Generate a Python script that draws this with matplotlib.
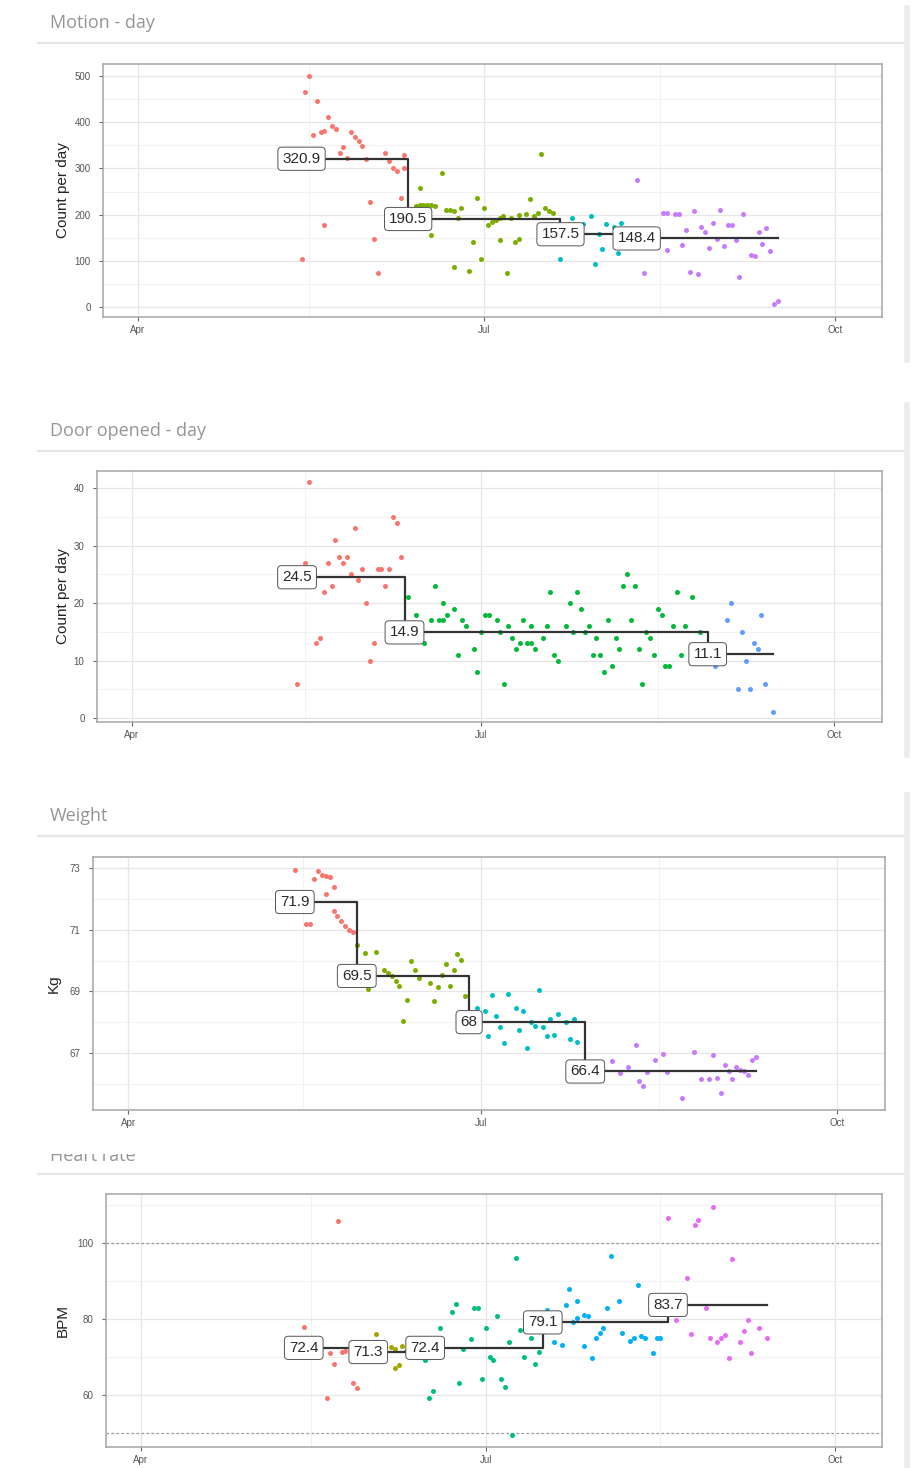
import matplotlib
matplotlib.use("Agg")
import matplotlib.pyplot as plt
import matplotlib.dates as mdates
from matplotlib.lines import Line2D
from matplotlib.ticker import FixedLocator
from matplotlib.transforms import Bbox, TransformedBbox
import numpy as np
import pandas as pd

plt.rcParams["font.family"] = ["Liberation Sans", "DejaVu Sans"]

YEAR = "2019-"

# Motion - day
motion_dates = ["05-14", "05-15", "05-16", "05-17", "05-18", "05-19", "05-20", "05-20", "05-21", "05-22",
                "05-23", "05-24", "05-25", "05-26", "05-27", "05-28", "05-29", "05-30", "05-31", "06-01",
                "06-02", "06-03", "06-05", "06-06", "06-07", "06-08", "06-09", "06-10", "06-10",
                "06-13", "06-14", "06-14", "06-15", "06-16", "06-17", "06-17", "06-18", "06-20", "06-21",
                "06-22", "06-23", "06-23", "06-24", "06-25", "06-27", "06-28", "06-29", "06-30", "07-01",
                "07-02", "07-03", "07-04", "07-05", "07-05", "07-06", "07-07", "07-08", "07-09", "07-10",
                "07-10", "07-12", "07-13", "07-14", "07-15", "07-16", "07-17", "07-18", "07-19",
                "07-21", "07-24", "07-27", "07-29", "07-30", "07-31", "08-01", "08-02", "08-04", "08-05", "08-06",
                "08-10", "08-12", "08-17", "08-18", "08-18", "08-20", "08-21", "08-22", "08-23", "08-24",
                "08-25", "08-26", "08-27", "08-28", "08-29", "08-30", "08-31", "09-01", "09-02", "09-03",
                "09-04", "09-05", "09-06", "09-07", "09-09", "09-10", "09-11", "09-12", "09-13", "09-14",
                "09-15", "09-16"]
motion_vals = [105, 465, 500, 372, 445, 378, 381, 177, 412, 392,
               385, 334, 346, 323, 378, 368, 359, 348, 321, 228,
               148, 74, 334, 316, 301, 294, 236, 301, 330,
               218, 220, 257, 221, 220, 221, 156, 219, 289, 210,
               210, 208, 86, 192, 214, 79, 141, 237, 105, 214,
               177, 185, 188, 193, 145, 196, 74, 192, 141, 199,
               147, 201, 234, 198, 203, 332, 214, 207, 203,
               103, 192, 179, 198, 94, 157, 126, 179, 174, 116, 181,
               276, 73, 203, 203, 123, 201, 201, 135, 166, 76,
               207, 72, 174, 163, 127, 181, 148, 210, 132, 177,
               177, 145, 66, 201, 112, 110, 163, 137, 172, 121,
               7, 13]
motion_breaks = ["05-14", "06-11", "07-21", "08-10"]
motion_end = "09-16"
motion_means = [320.9, 190.5, 157.5, 148.4]

# Door opened - day
door_dates = ["05-14", "05-16", "05-17", "05-19", "05-20", "05-21", "05-22", "05-23", "05-24", "05-25",
              "05-26", "05-27", "05-28", "05-29", "05-30", "05-31", "06-01", "06-02", "06-03", "06-04",
              "06-05", "06-06", "06-07", "06-08", "06-09", "06-10",
              "06-12", "06-14", "06-16", "06-18", "06-19", "06-20", "06-21", "06-21", "06-22", "06-24",
              "06-25", "06-26", "06-27", "06-29", "06-30", "07-01", "07-02", "07-03", "07-05", "07-06",
              "07-07", "07-08", "07-09", "07-10", "07-11", "07-12", "07-13", "07-14", "07-14", "07-15",
              "07-17", "07-18", "07-19", "07-20", "07-21", "07-23", "07-24", "07-25", "07-26", "07-27",
              "07-28", "07-29", "07-30", "07-31", "08-01", "08-02", "08-03", "08-04", "08-05", "08-06",
              "08-07", "08-08", "08-09", "08-10", "08-11", "08-12", "08-13", "08-14", "08-15", "08-16",
              "08-17", "08-18", "08-19", "08-20", "08-21", "08-22", "08-23", "08-25", "08-27",
              "08-31", "09-03", "09-04", "09-06", "09-07", "09-08", "09-09", "09-10", "09-11", "09-12",
              "09-13", "09-15"]
door_vals = [6, 27, 41, 13, 14, 22, 27, 23, 31, 28,
             27, 28, 25, 33, 24, 26, 20, 10, 13, 26,
             26, 23, 26, 35, 34, 28,
             21, 18, 13, 17, 23, 17, 17, 20, 18, 19,
             11, 17, 16, 12, 8, 15, 18, 18, 17, 15,
             6, 16, 14, 12, 13, 17, 13, 16, 13, 12,
             14, 16, 22, 11, 10, 16, 20, 15, 22, 19,
             15, 16, 11, 14, 11, 8, 17, 9, 14, 12,
             23, 25, 17, 23, 12, 6, 15, 14, 11, 19,
             18, 9, 9, 16, 22, 11, 16, 21, 15,
             9, 17, 20, 5, 15, 10, 5, 13, 12, 18,
             6, 1]
door_breaks = ["05-14", "06-11", "08-29"]
door_end = "09-15"
door_means = [24.5, 14.9, 11.1]

# Weight
weight_dates = ["05-14", "05-17", "05-18", "05-19", "05-20", "05-21", "05-22", "05-22", "05-23", "05-24",
                "05-24", "05-25", "05-26", "05-27", "05-28", "05-29",
                "05-30", "06-01", "06-02", "06-04", "06-06", "06-07", "06-08", "06-09", "06-10", "06-11",
                "06-12", "06-13", "06-14", "06-15", "06-18", "06-19", "06-20", "06-21", "06-22", "06-23",
                "06-24", "06-25", "06-26", "06-27",
                "06-29", "06-30", "07-02", "07-03", "07-04", "07-05", "07-06", "07-07", "07-08", "07-10",
                "07-11", "07-12", "07-13", "07-14", "07-15", "07-16", "07-17", "07-18", "07-19", "07-20",
                "07-21", "07-23", "07-24", "07-25", "07-26",
                "07-29", "07-31", "08-04", "08-06", "08-08", "08-10", "08-11", "08-12", "08-13", "08-15",
                "08-17", "08-18", "08-22", "08-25", "08-27", "08-29", "08-30", "08-31", "09-01", "09-02",
                "09-03", "09-04", "09-05", "09-06", "09-07", "09-08", "09-09", "09-10"]
weight_vals = [72.94, 71.19, 71.19, 72.63, 72.89, 72.78, 72.15, 72.73, 72.71, 72.38,
               71.61, 71.45, 71.29, 71.13, 71.00, 70.94,
               70.52, 70.23, 69.09, 70.28, 69.70, 69.59, 69.49, 69.33, 69.17, 68.05,
               68.71, 69.99, 69.70, 69.43, 69.27, 68.69, 69.13, 69.52, 69.88, 69.17,
               69.70, 70.20, 70.02, 68.85,
               68.15, 68.45, 68.37, 67.54, 68.88, 68.21, 67.84, 67.33, 68.92, 68.45,
               67.73, 68.37, 67.15, 68.00, 67.89, 69.03, 67.84, 67.54, 68.10, 67.60,
               68.28, 68.00, 67.47, 68.10, 67.36,
               66.50, 66.30, 66.75, 66.35, 66.56, 67.25, 66.08, 65.92, 66.37, 66.77,
               66.97, 66.37, 65.55, 67.04, 66.16, 66.16, 66.93, 66.19, 65.71, 66.61,
               66.40, 66.14, 66.56, 66.45, 66.40, 66.29, 66.77, 66.86]
weight_breaks = ["05-14", "05-30", "06-28", "07-28"]
weight_end = "09-10"
weight_means = [71.9, 69.5, 68, 66.4]

# Heart rate
bpm_dates = ["05-14", "05-20", "05-21", "05-22", "05-23", "05-24", "05-25", "05-27", "05-28",
             "06-01", "06-02", "06-03", "06-04", "06-06", "06-07", "06-07", "06-08", "06-09", "06-10",
             "06-15", "06-16", "06-17", "06-19", "06-22", "06-23", "06-24", "06-25", "06-27", "06-28",
             "06-29", "06-30", "07-01", "07-02", "07-03", "07-04", "07-05", "07-06", "07-07", "07-08",
             "07-09", "07-10", "07-11", "07-12", "07-13", "07-14", "07-15",
             "07-17", "07-19", "07-21", "07-22", "07-23", "07-24", "07-25", "07-25", "07-27", "07-27",
             "07-28", "07-29", "07-30", "07-31", "08-01", "08-02", "08-03", "08-05", "08-06", "08-08",
             "08-09", "08-10", "08-11", "08-12", "08-14", "08-15", "08-16",
             "08-18", "08-20", "08-23", "08-24", "08-25", "08-26", "08-28", "08-29", "08-30", "08-31",
             "09-01", "09-02", "09-03", "09-04", "09-06", "09-07", "09-08", "09-09", "09-11", "09-13"]
bpm_vals = [78.0, 59.3, 71.0, 68.1, 105.8, 71.4, 71.6, 63.1, 61.9,
            70.5, 76.0, 71.0, 69.8, 72.5, 72.1, 67.0, 67.9, 72.8, 71.5,
            69.2, 59.3, 61.0, 77.7, 81.9, 83.9, 63.1, 72.1, 74.7, 83.0,
            83.0, 64.2, 77.7, 70.1, 69.2, 80.9, 64.2, 62.2, 74.0, 49.5,
            96.0, 77.1, 70.1, 78.0, 75.0, 68.1, 71.2,
            82.4, 74.0, 73.2, 83.7, 87.9, 79.3, 84.7, 80.2, 81.0, 73.0,
            80.9, 69.8, 74.9, 76.2, 77.5, 82.8, 96.7, 84.7, 76.2, 74.2,
            75.1, 88.9, 75.6, 74.9, 71.0, 74.9, 74.9,
            106.7, 79.7, 90.9, 76.0, 104.7, 106.0, 82.8, 74.9, 109.6, 74.0,
            74.9, 75.8, 69.8, 95.8, 74.0, 76.8, 79.7, 71.0, 77.7, 74.9]
bpm_breaks = ["05-14", "05-31", "06-15", "07-16", "08-18"]
bpm_end = "09-13"
bpm_means = [72.4, 71.3, 72.4, 79.1, 83.7]

hue3 = ["#F8766D", "#00BA38", "#619CFF"]
hue4 = ["#F8766D", "#7CAE00", "#00BFC4", "#C77CFF"]
hue5 = ["#F8766D", "#A3A500", "#00BF7D", "#00B0F6", "#E76BF3"]

W, H = 919, 1468
fig = plt.figure(figsize=(W / 100, H / 100), dpi=100)


def todate(s):
    return pd.to_datetime([YEAR + x for x in s])


def panel(box, dates, vals, breaks, end, means, colors, yticks, yminor, ylim, ylabel, lab_x):
    x0, y0, x1, y1 = box
    ax = fig.add_axes([x0 / W, 1 - y1 / H, (x1 - x0) / W, (y1 - y0) / H])
    d = todate(dates)
    b = todate(breaks)
    e = pd.Timestamp(YEAR + end)
    v = np.array(vals)
    grp = np.searchsorted(b.values, d.values, side="right") - 1
    for i, c in enumerate(colors):
        m = grp == i
        ax.scatter(d[m], v[m], s=13, color=c, lw=0, zorder=3)
    xs = list(b) + [e]
    ys = list(means) + [means[-1]]
    ax.step(xs, ys, where="post", color="#333333", lw=1.6, zorder=4)
    for xb, m in zip(b, means):
        ax.text(mdates.date2num(xb), m, f"{m:g}", ha="center", va="center", fontsize=11,
                color="#2a2a2a", zorder=5,
                bbox=dict(boxstyle="round,pad=0.3,rounding_size=0.25", fc="white", ec="#555555", lw=0.7))

    ax.set_xlim(pd.Timestamp("2019-03-22 21:00"), pd.Timestamp("2019-10-13 10:00"))
    ax.set_ylim(*ylim)
    ax.xaxis.set_major_locator(mdates.MonthLocator(bymonth=[4, 7, 10]))
    ax.xaxis.set_major_formatter(mdates.DateFormatter("%b"))
    ax.xaxis.set_minor_locator(FixedLocator(mdates.date2num(todate(["05-16", "08-16"]))))
    ax.set_yticks(yticks)
    ax.yaxis.set_minor_locator(FixedLocator(yminor))
    ax.tick_params(which="major", length=3, width=0.8, color="#666666", labelsize=7,
                   labelcolor="#555555")
    ax.tick_params(axis="y", pad=6)
    ax.tick_params(axis="x", pad=3)
    ax.tick_params(which="minor", length=0)
    ax.grid(which="major", color="#e6e6e6", lw=0.9)
    ax.grid(which="minor", color="#f0f0f0", lw=0.6)
    ax.set_axisbelow(True)
    for sp in ax.spines.values():
        sp.set_color("#a6a6a6")
        sp.set_linewidth(1.1)
    ax.set_ylabel(ylabel, fontsize=11, color="#222222")
    ax.yaxis.set_label_coords((lab_x - x0) / (x1 - x0), 0.5)
    return ax


def card(title_y, sep_y, bar_top, bar_bot, title=None, clip_y=None):
    fig.add_artist(Line2D([38 / W, 905 / W], [1 - sep_y / H] * 2, transform=fig.transFigure,
                          color="#e6e6e6", lw=1.6))
    fig.add_artist(Line2D([907 / W] * 2, [1 - bar_top / H, 1 - bar_bot / H], transform=fig.transFigure,
                          color="#ececec", lw=4))
    if title:
        t = fig.text(50 / W, 1 - title_y / H, title, fontsize=13, color="#959595",
                     family=["Open Sans", "DejaVu Sans"], va="baseline")
        if clip_y is not None:
            t.set_clip_box(TransformedBbox(Bbox([[0, 0], [1, 1 - clip_y / H]]), fig.transFigure))
            t.set_clip_on(True)


card(28, 43, 8, 360, "Motion - day")
card(436, 451, 405, 755, "Door opened - day")
card(821, 836, 795, 1150, "Weight")
card(1161, 1174, 1150, 1468, "Heart rate", clip_y=1154)

panel((103, 64, 882, 317), motion_dates, motion_vals, motion_breaks, motion_end, motion_means, hue4,
      [0, 100, 200, 300, 400, 500], [50, 150, 250, 350, 450], (-21.6, 526), "Count per day", 70)
panel((97, 471, 882, 722), door_dates, door_vals, door_breaks, door_end, door_means, hue3,
      [0, 10, 20, 30, 40], [5, 15, 25, 35], (-0.7, 43), "Count per day", 70)
panel((93, 857, 885, 1110), weight_dates, weight_vals, weight_breaks, weight_end, weight_means, hue4,
      [67, 69, 71, 73], [66, 68, 70, 72], (65.15, 73.36), "Kg", 61)
ax4 = panel((106, 1194, 882, 1447), bpm_dates, bpm_vals, bpm_breaks, bpm_end, bpm_means, hue5,
            [60, 80, 100], [50, 70, 90, 110], (46.3, 112.9), "BPM", 70)
for yl in [50, 100]:
    ax4.axhline(yl, color="#9a9a9a", lw=0.9, ls=(0, (2, 2)), zorder=2)

fig.savefig("out.png", dpi=100)
